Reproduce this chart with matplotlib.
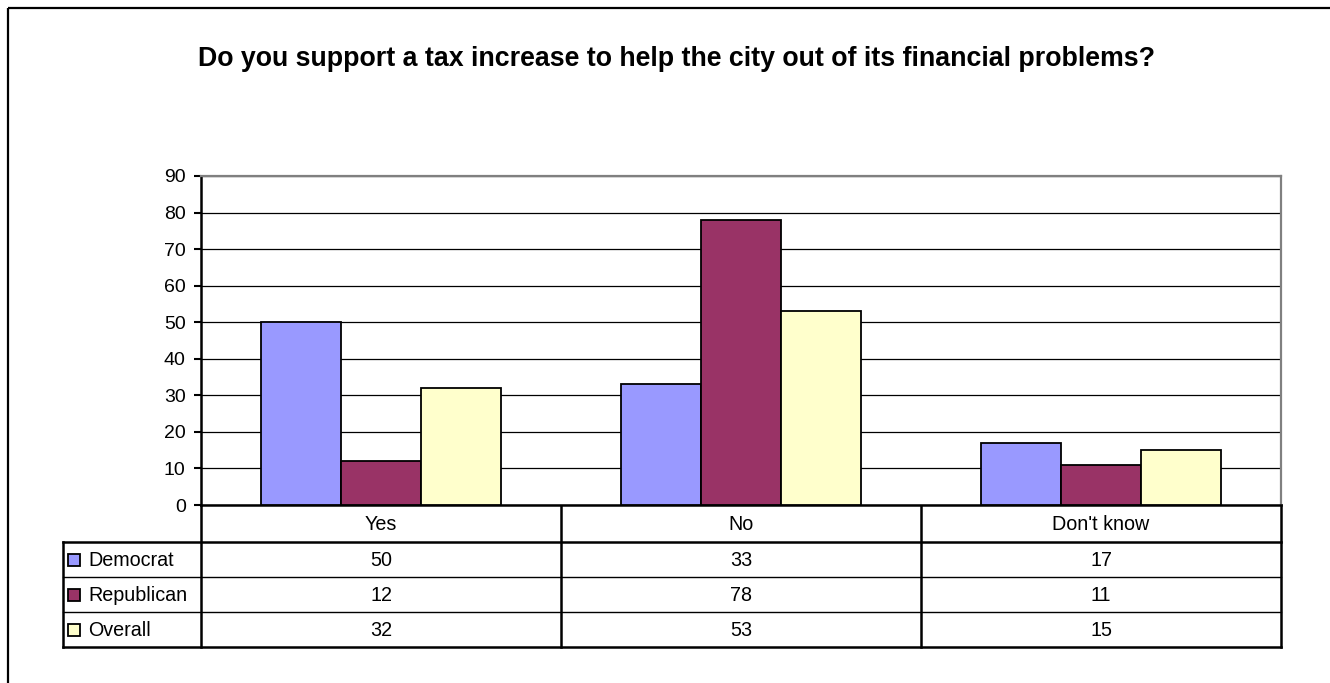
import matplotlib
matplotlib.use("Agg")
import matplotlib.pyplot as plt
import matplotlib.transforms as mtransforms
from matplotlib.patches import Rectangle
import numpy as np

plt.rcParams['font.family'] = ['Liberation Sans', 'DejaVu Sans']

title = "Do you support a tax increase to help the city out of its financial problems?"
categories = ["Yes", "No", "Don't know"]
series_names = ["Democrat", "Republican", "Overall"]
democrat = [50, 33, 17]
republican = [12, 78, 11]
overall = [32, 53, 15]
series_values = [democrat, republican, overall]
colors = ["#9999FF", "#993366", "#FFFFCC"]
yticks = list(range(0, 91, 10))

W, H = 1330, 683
fig = plt.figure(figsize=(W / 100, H / 100), dpi=100)

# overlay axes in pixel coordinates
ov = fig.add_axes([0, 0, 1, 1])
ov.set_xlim(0, W)
ov.set_ylim(H, 0)
ov.axis('off')
ov.patch.set_alpha(0)

# main plot area
L, R, T, B = 201, 1281, 176, 505
ax = fig.add_axes([L / W, (H - B) / H, (R - L) / W, (B - T) / H])
ax.set_zorder(2)

x = np.arange(len(categories))
bw = 2 / 9
for k, (vals, c) in enumerate(zip(series_values, colors)):
    ax.bar(x + (k - 1) * bw, vals, width=bw, color=c, edgecolor='black',
           linewidth=1.3, zorder=3)

ax.set_xlim(-0.5, len(categories) - 0.5)
ax.set_ylim(0, 90)
ax.set_yticks(yticks)
ax.set_yticklabels([str(v) for v in yticks], fontsize=14)
ax.set_xticks([])
ax.tick_params(axis='y', direction='out', length=5, width=1.5, pad=6, color='black')
ax.grid(axis='y', color='black', linewidth=0.9, zorder=1)
ax.set_axisbelow(True)
for s in ['left', 'bottom']:
    ax.spines[s].set_color('black')
    ax.spines[s].set_linewidth(1.8)
for s in ['top', 'right']:
    ax.spines[s].set_color('#808080')
    ax.spines[s].set_linewidth(1.6)

# title
ov.text(677, 59, title, ha='center', va='center', fontsize=19.3,
        fontweight='bold', color='black')

# outer chart border (clipped on right/bottom)
ov.add_patch(Rectangle((8, 8), 1400, 800, fill=False, edgecolor='black',
                       linewidth=1.6))

# data table
blend = mtransforms.blended_transform_factory(ax.transData, ov.transData)
row_y = [505, 542, 577, 612, 647]
leg_left = 63
for yy in row_y[1:]:
    lw = 1.8 if yy in (542, 647) else 1.0
    ov.plot([leg_left, R], [yy, yy], color='black', lw=lw, solid_capstyle='projecting')
ov.plot([leg_left, leg_left], [542, 647], color='black', lw=1.8)
for bx in np.arange(len(categories) + 1) - 0.5:
    ov.plot([bx, bx], [505, 647], color='black', lw=1.8, transform=blend)

fs = 14.2
for i, cat in enumerate(categories):
    ov.text(i, (row_y[0] + row_y[1]) / 2 + 1, cat, ha='center', va='center',
            fontsize=fs, transform=blend)
for k, (name, vals, c) in enumerate(zip(series_names, series_values, colors)):
    yc = (row_y[k + 1] + row_y[k + 2]) / 2
    ov.add_patch(Rectangle((68, yc - 6), 12, 12, facecolor=c, edgecolor='black',
                           linewidth=1.3))
    ov.text(88, yc + 1, name, ha='left', va='center', fontsize=fs)
    for i, v in enumerate(vals):
        ov.text(i, yc + 1, str(v), ha='center', va='center', fontsize=fs,
                transform=blend)

fig.savefig("out.png", dpi=100)
